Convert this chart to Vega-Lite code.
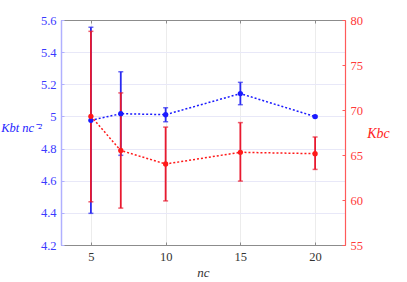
{
  "$schema": "https://vega.github.io/schema/vega-lite/v6.json",
  "autosize": {"type": "none"},
  "width": 284,
  "height": 225,
  "padding": {"left": 61, "top": 20, "right": 62, "bottom": 37},
  "config": {
    "view": {"stroke": "#8c8c8c", "strokeWidth": 1},
    "font": "Liberation Serif",
    "axis": {"labelFontSize": 12.5, "titleFontSize": 13, "titleFontWeight": "normal", "titleFontStyle": "italic"}
  },
  "datasets": {
    "blue": [
      {"n": 5, "v": 4.976, "lo": 4.397, "hi": 5.555},
      {"n": 7, "v": 5.017, "lo": 4.758, "hi": 5.278},
      {"n": 10, "v": 5.011, "lo": 4.967, "hi": 5.054},
      {"n": 15, "v": 5.142, "lo": 5.073, "hi": 5.212},
      {"n": 20, "v": 4.999, "lo": 4.993, "hi": 5.005}
    ],
    "red": [
      {"n": 5, "v": 69.3, "lo": 59.8, "hi": 78.74},
      {"n": 7, "v": 65.5, "lo": 59.1, "hi": 71.9},
      {"n": 10, "v": 64.0, "lo": 59.9, "hi": 68.1},
      {"n": 15, "v": 65.3, "lo": 62.1, "hi": 68.6},
      {"n": 20, "v": 65.15, "lo": 63.4, "hi": 67.0}
    ]
  },
  "layer": [
    {
      "data": {"name": "blue"},
      "encoding": {
        "x": {"field": "n", "type": "quantitative", "scale": {"domain": [3, 22], "nice": false},
          "axis": {"orient": "bottom", "values": [5, 10, 15, 20], "title": "nc", "labelFont": "Liberation Serif", "titleFont": "Liberation Serif", "titleColor": "#333333", "labelColor": "#333333", "domainColor": "#8c8c8c", "tickColor": "#8c8c8c", "tickSize": -3, "labelPadding": 8, "grid": true, "gridColor": "#ececec", "titlePadding": 4}},
        "y": {"field": "lo", "type": "quantitative", "scale": {"domain": [4.2, 5.6], "nice": false, "zero": false},
          "axis": {"orient": "left", "values": [4.2, 4.4, 4.6, 4.8, 5.0, 5.2, 5.4, 5.6], "labelFont": "Liberation Serif", "titleFont": "Liberation Serif", "labelExpr": "datum.value == 5 ? '5' : format(datum.value, '.1f')", "title": "Kbt nc⁻²", "titleFontSize": 12.5, "titleAngle": 0, "titleAlign": "center", "titleBaseline": "middle", "titleX": -40, "titleY": 107, "titleColor": "#2424ff", "labelColor": "#3a3aff", "domainColor": "#b0b0ff", "domainWidth": 1.5, "tickColor": "#b0b0ff", "tickSize": -3, "labelPadding": 8, "grid": true, "gridColor": "#e8e8f8"}}
      },
      "layer": [
        {"mark": {"type": "rule", "color": "#2a2af0", "strokeWidth": 1.8}, "encoding": {"y2": {"field": "hi"}}},
        {"mark": {"type": "tick", "orient": "horizontal", "color": "#2a2af0", "size": 5, "thickness": 1.5}},
        {"mark": {"type": "tick", "orient": "horizontal", "color": "#2a2af0", "size": 5, "thickness": 1.5}, "encoding": {"y": {"field": "hi", "type": "quantitative"}}}
      ]
    },
    {
      "data": {"name": "red"},
      "encoding": {
        "x": {"field": "n", "type": "quantitative", "scale": {"domain": [3, 22], "nice": false},
          "axis": {"orient": "top", "values": [5, 10, 15, 20], "labels": false, "title": null, "domainColor": "#8c8c8c", "tickColor": "#8c8c8c", "tickSize": -3, "grid": false}},
        "y": {"field": "lo", "type": "quantitative", "scale": {"domain": [55, 80], "nice": false, "zero": false},
          "axis": {"orient": "right", "values": [55, 60, 65, 70, 75, 80], "labelFont": "Liberation Serif", "titleFont": "Liberation Serif", "title": "Kbc", "titleFontSize": 14, "titleAngle": 0, "titleAlign": "center", "titleBaseline": "middle", "titleX": 33, "titleY": 113, "titleColor": "#ff2020", "labelColor": "#ff3a3a", "domainColor": "#ff5a5a", "domainWidth": 1.2, "tickColor": "#ff5a5a", "tickSize": -3, "labelPadding": 8, "grid": false}}
      },
      "layer": [
        {"mark": {"type": "rule", "color": "#e8192f", "strokeWidth": 1.8}, "encoding": {"y2": {"field": "hi"}}},
        {"mark": {"type": "tick", "orient": "horizontal", "color": "#e8192f", "size": 5, "thickness": 1.5}},
        {"mark": {"type": "tick", "orient": "horizontal", "color": "#e8192f", "size": 5, "thickness": 1.5}, "encoding": {"y": {"field": "hi", "type": "quantitative"}}}
      ]
    },
    {
      "data": {"name": "blue"},
      "encoding": {
        "x": {"field": "n", "type": "quantitative", "scale": {"domain": [3, 22], "nice": false}, "axis": null},
        "y": {"field": "v", "type": "quantitative", "scale": {"domain": [4.2, 5.6], "nice": false, "zero": false}, "axis": null}
      },
      "layer": [
        {"mark": {"type": "line", "color": "#1a1aff", "strokeWidth": 1.5, "strokeDash": [2, 2]}},
        {"mark": {"type": "point", "filled": true, "color": "#1a1aff", "size": 28, "opacity": 1}}
      ]
    },
    {
      "data": {"name": "red"},
      "encoding": {
        "x": {"field": "n", "type": "quantitative", "scale": {"domain": [3, 22], "nice": false}, "axis": null},
        "y": {"field": "v", "type": "quantitative", "scale": {"domain": [55, 80], "nice": false, "zero": false}, "axis": null}
      },
      "layer": [
        {"mark": {"type": "line", "color": "#ff1a1a", "strokeWidth": 1.5, "strokeDash": [2, 2]}},
        {"mark": {"type": "point", "filled": true, "color": "#ff1a1a", "size": 28, "opacity": 1}}
      ]
    }
  ],
  "resolve": {"scale": {"y": "independent"}, "axis": {"x": "independent", "y": "independent"}}
}
